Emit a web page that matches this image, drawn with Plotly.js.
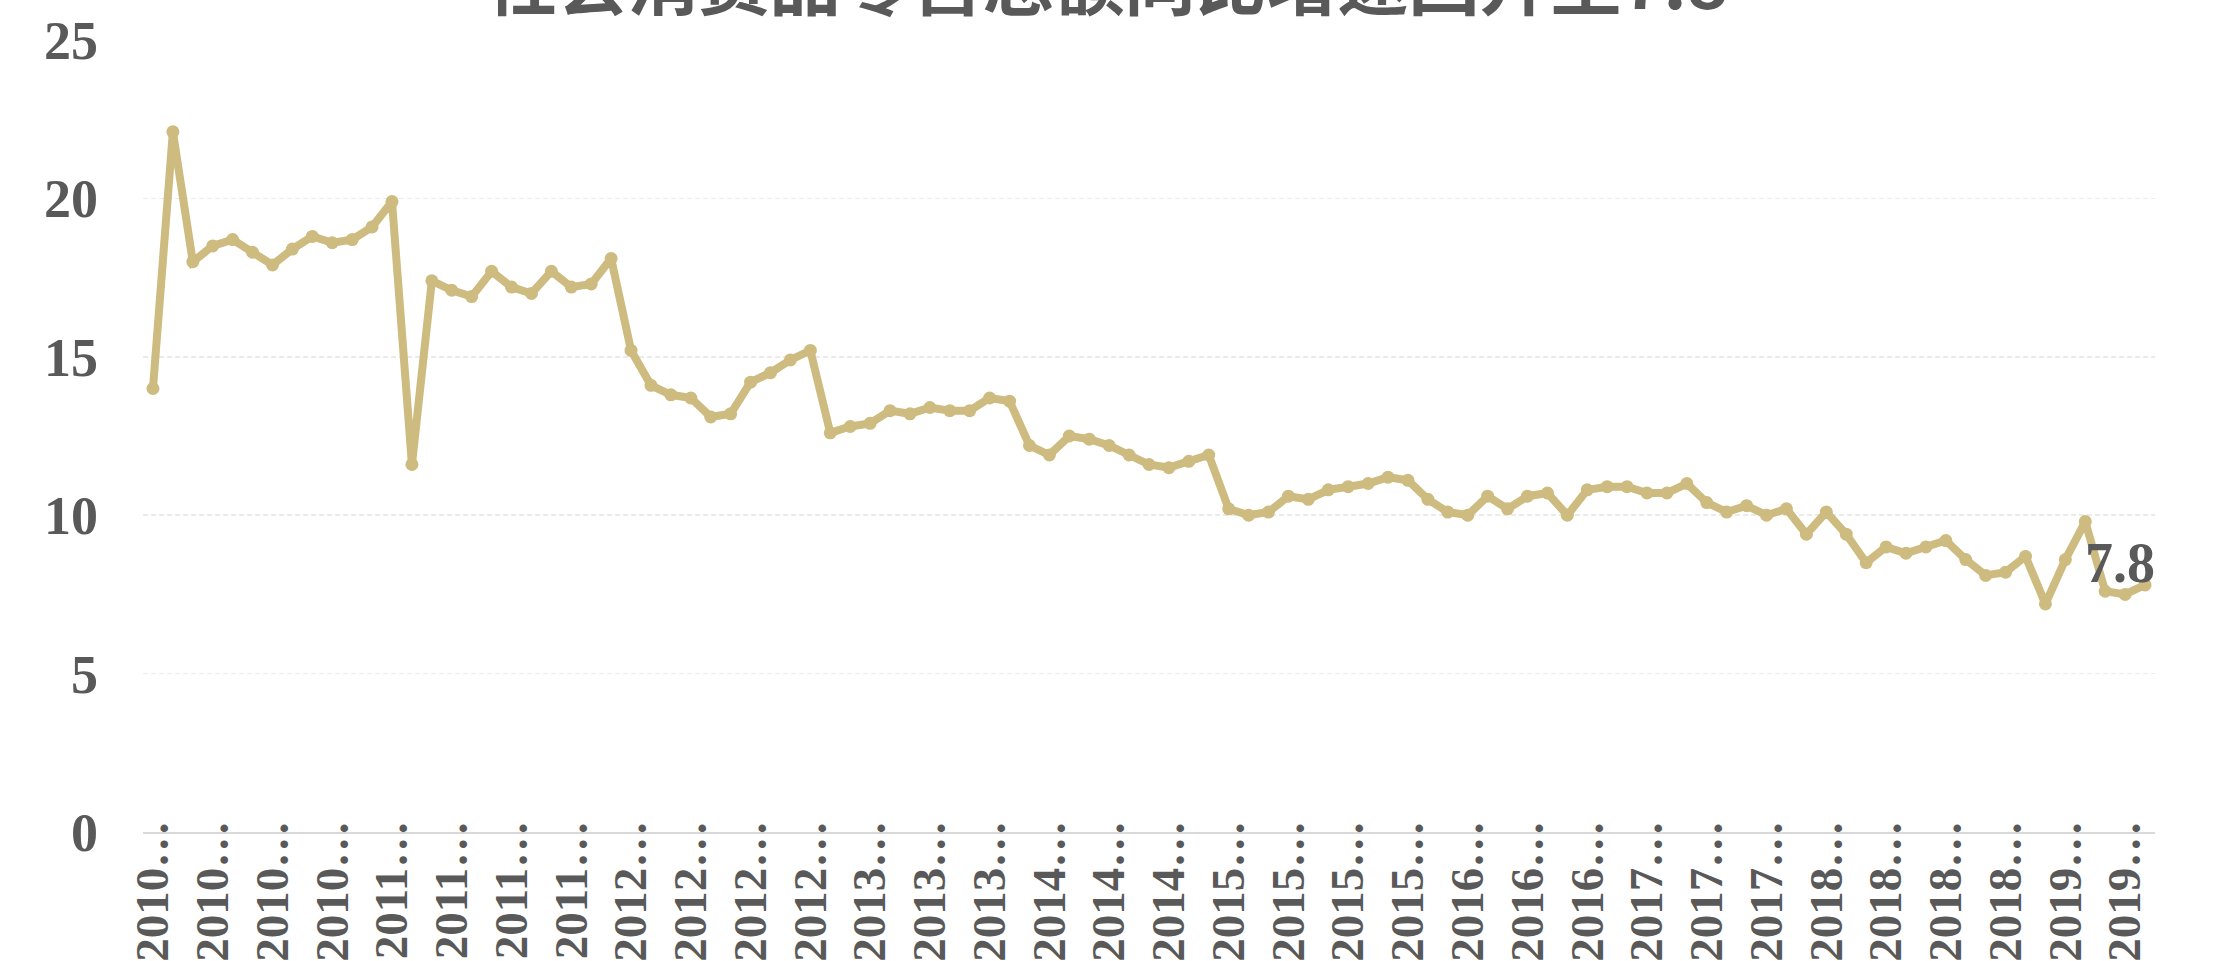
<!DOCTYPE html>
<html>
<head>
<meta charset="utf-8">
<script src="https://cdn.plot.ly/plotly-3.0.1.min.js"></script>
<style>
  html, body { margin: 0; padding: 0; background: #ffffff; overflow: hidden; }
  #chart { width: 2214px; height: 961px; }
</style>
</head>
<body>
<div id="chart"></div>
<script>
// ---- data ----
var chartTitle = "社会消费品零售总额同比增速回升至7.8";

var months = [
  "2010-01","2010-02","2010-03","2010-04","2010-05","2010-06","2010-07","2010-08","2010-09","2010-10","2010-11","2010-12",
  "2011-01","2011-02","2011-03","2011-04","2011-05","2011-06","2011-07","2011-08","2011-09","2011-10","2011-11","2011-12",
  "2012-03","2012-04","2012-05","2012-06","2012-07","2012-08","2012-09","2012-10","2012-11","2012-12",
  "2013-03","2013-04","2013-05","2013-06","2013-07","2013-08","2013-09","2013-10","2013-11","2013-12",
  "2014-03","2014-04","2014-05","2014-06","2014-07","2014-08","2014-09","2014-10","2014-11","2014-12",
  "2015-03","2015-04","2015-05","2015-06","2015-07","2015-08","2015-09","2015-10","2015-11","2015-12",
  "2016-03","2016-04","2016-05","2016-06","2016-07","2016-08","2016-09","2016-10","2016-11","2016-12",
  "2017-03","2017-04","2017-05","2017-06","2017-07","2017-08","2017-09","2017-10","2017-11","2017-12",
  "2018-03","2018-04","2018-05","2018-06","2018-07","2018-08","2018-09","2018-10","2018-11","2018-12",
  "2019-03","2019-04","2019-05","2019-06","2019-07","2019-08","2019-09"
];

var retailYoY = [
  14.0, 22.1, 18.0, 18.5, 18.7, 18.3, 17.9, 18.4, 18.8, 18.6, 18.7, 19.1,
  19.9, 11.6, 17.4, 17.1, 16.9, 17.7, 17.2, 17.0, 17.7, 17.2, 17.3, 18.1,
  15.2, 14.1, 13.8, 13.7, 13.1, 13.2, 14.2, 14.5, 14.9, 15.2,
  12.6, 12.8, 12.9, 13.3, 13.2, 13.4, 13.3, 13.3, 13.7, 13.6,
  12.2, 11.9, 12.5, 12.4, 12.2, 11.9, 11.6, 11.5, 11.7, 11.9,
  10.2, 10.0, 10.1, 10.6, 10.5, 10.8, 10.9, 11.0, 11.2, 11.1,
  10.5, 10.1, 10.0, 10.6, 10.2, 10.6, 10.7, 10.0, 10.8, 10.9,
  10.9, 10.7, 10.7, 11.0, 10.4, 10.1, 10.3, 10.0, 10.2, 9.4,
  10.1, 9.4, 8.5, 9.0, 8.8, 9.0, 9.2, 8.6, 8.1, 8.2,
  8.7, 7.2, 8.6, 9.8, 7.6, 7.5, 7.8
];

var yTicks = [0, 5, 10, 15, 20, 25];
var labelStep = 3;

// ---- build ----
var tickVals = [];
var tickText = [];
for (var i = 0; i < months.length; i += labelStep) {
  tickVals.push(months[i]);
  tickText.push(months[i].slice(0, 4) + "…");
}

var lineColor = "#cdbb7f";
var textColor = "#595959";
var serif = "Liberation Serif, Times New Roman, serif";

var trace = {
  type: "scatter",
  mode: "lines+markers",
  x: months,
  y: retailYoY,
  line: { color: lineColor, width: 8 },
  marker: { color: lineColor, size: 13 },
  hoverinfo: "x+y",
  showlegend: false
};

var last = months.length - 1;

var layout = {
  width: 2214,
  height: 961,
  margin: { l: 143, r: 59, t: 40, b: 129, pad: 0 },
  paper_bgcolor: "#ffffff",
  plot_bgcolor: "#ffffff",
  title: {
    text: chartTitle,
    font: { family: "Noto Sans CJK SC", size: 71, color: textColor, weight: "bold" },
    x: 0.5,
    xref: "container",
    xanchor: "center",
    y: 1 - 9 / 961,
    yref: "container",
    yanchor: "bottom"
  },
  xaxis: {
    type: "category",
    range: [-0.5, months.length - 0.5],
    tickmode: "array",
    tickvals: tickVals,
    ticktext: tickText,
    tickangle: -90,
    tickfont: { family: serif, size: 47, color: textColor, weight: "bold" },
    ticklabelstandoff: -32,
    showgrid: false,
    zeroline: false,
    showline: true,
    linecolor: "#d9d9d9",
    linewidth: 2,
    ticks: "",
    automargin: false
  },
  yaxis: {
    range: [0, 25],
    tickmode: "array",
    tickvals: yTicks,
    ticktext: yTicks.map(String),
    tickfont: { family: serif, size: 54, color: textColor, weight: "bold" },
    ticklabelstandoff: 44,
    showgrid: true,
    gridcolor: "#ebebeb",
    gridwidth: 1.5,
    griddash: "5px,3px",
    zeroline: false,
    showline: false,
    ticks: "",
    automargin: false
  },
  annotations: [{
    x: months[last],
    y: retailYoY[last],
    xref: "x",
    yref: "y",
    text: String(retailYoY[last]),
    showarrow: false,
    xanchor: "right",
    yanchor: "middle",
    xshift: 12,
    yshift: 22,
    font: { family: serif, size: 56, color: textColor, weight: "bold" }
  }]
};

Plotly.newPlot("chart", [trace], layout, { displayModeBar: false, staticPlot: true });
</script>
</body>
</html>
